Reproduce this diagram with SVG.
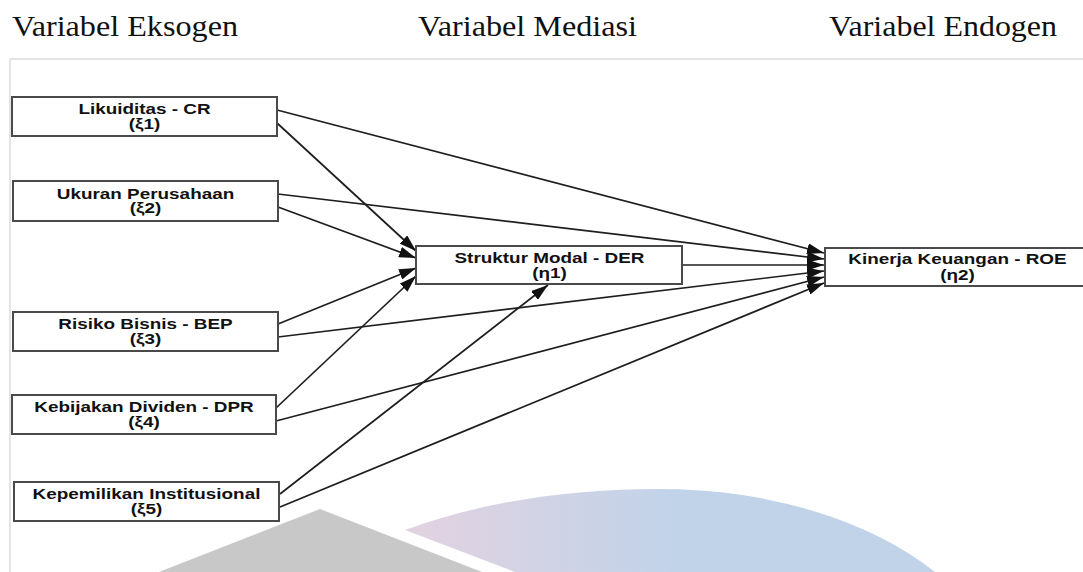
<svg xmlns="http://www.w3.org/2000/svg" width="1083" height="572" viewBox="0 0 1083 572">
  <style>
    .title { font-family: "Liberation Serif", "Times New Roman", serif; font-size: 30px; fill: #111; }
    .box { fill: #fff; stroke: #4a4a4a; stroke-width: 2; }
    .lbl { font-family: "Liberation Sans", Arial, sans-serif; font-size: 14px; font-weight: bold; fill: #111; text-anchor: middle; }
    .edge { fill: none; stroke: #1e1e1e; stroke-width: 1.7; marker-end: url(#arrow); }
    .frame { stroke: #dcdcdc; stroke-width: 1.5; fill: none; }
  </style>
  <defs>
    <marker id="arrow" markerUnits="userSpaceOnUse" markerWidth="17" markerHeight="11" refX="17" refY="5.5" orient="auto">
      <path d="M0,0 L17,5.5 L0,11 Z" fill="#111"/>
    </marker>
    <linearGradient id="wm" gradientUnits="userSpaceOnUse" x1="405" y1="0" x2="680" y2="0">
      <stop offset="0" stop-color="#e2d2e0"/>
      <stop offset="1" stop-color="#c1d3e9"/>
    </linearGradient>
  </defs>

  <rect width="1083" height="572" fill="#fff"/>

  <!-- column headings -->
  <g id="headings">
    <text class="title" x="12" y="36" textLength="226" lengthAdjust="spacingAndGlyphs">Variabel Eksogen</text>
    <text class="title" x="418" y="36" textLength="219" lengthAdjust="spacingAndGlyphs">Variabel Mediasi</text>
    <text class="title" x="829" y="36" textLength="228" lengthAdjust="spacingAndGlyphs">Variabel Endogen</text>
  </g>

  <!-- panel border -->
  <path class="frame" d="M10,572 L10,59 L1083,59"/>

  <!-- background emblem -->
  <g id="emblem">
    <polygon points="159,572 320,509 482,572" fill="#c8c8c8"/>
    <path d="M405,530 C480,502 570,489 660,489 A346,211 0 0 1 935,572 L515,572 Z" fill="url(#wm)"/>
  </g>

  <!-- paths -->
  <g id="connectors">
    <line class="edge" x1="277" y1="110" x2="824" y2="253"/>
    <line class="edge" x1="277" y1="123" x2="416" y2="251"/>
    <line class="edge" x1="278" y1="194" x2="824" y2="259"/>
    <line class="edge" x1="278" y1="207" x2="416" y2="258"/>
    <line class="edge" x1="278" y1="324" x2="416" y2="268"/>
    <line class="edge" x1="278" y1="337" x2="824" y2="271"/>
    <line class="edge" x1="276" y1="408" x2="416" y2="276"/>
    <line class="edge" x1="276" y1="421" x2="824" y2="277"/>
    <line class="edge" x1="280" y1="494" x2="548" y2="285"/>
    <line class="edge" x1="280" y1="507" x2="824" y2="283"/>
    <line class="edge" x1="682" y1="265" x2="824" y2="265"/>
  </g>

  <g id="x1">
    <rect class="box" x="12" y="97" width="265" height="39"/>
    <text class="lbl" transform="translate(144.5 0) scale(1.35 1)" x="0" y="114">Likuiditas - CR</text>
    <text class="lbl" transform="translate(144.5 0) scale(1.35 1)" x="0" y="129">(ξ1)</text>
  </g>
  <g id="x2">
    <rect class="box" x="13" y="181" width="265" height="40"/>
    <text class="lbl" transform="translate(145.5 0) scale(1.35 1)" x="0" y="199">Ukuran Perusahaan</text>
    <text class="lbl" transform="translate(145.5 0) scale(1.35 1)" x="0" y="213">(ξ2)</text>
  </g>
  <g id="x3">
    <rect class="box" x="13" y="312" width="265" height="39"/>
    <text class="lbl" transform="translate(145.5 0) scale(1.35 1)" x="0" y="329">Risiko Bisnis - BEP</text>
    <text class="lbl" transform="translate(145.5 0) scale(1.35 1)" x="0" y="344">(ξ3)</text>
  </g>
  <g id="x4">
    <rect class="box" x="12" y="395" width="264" height="39"/>
    <text class="lbl" transform="translate(144 0) scale(1.35 1)" x="0" y="412">Kebijakan Dividen - DPR</text>
    <text class="lbl" transform="translate(144 0) scale(1.35 1)" x="0" y="427">(ξ4)</text>
  </g>
  <g id="x5">
    <rect class="box" x="14" y="482" width="265" height="39"/>
    <text class="lbl" transform="translate(146.5 0) scale(1.35 1)" x="0" y="499">Kepemilikan Institusional</text>
    <text class="lbl" transform="translate(146.5 0) scale(1.35 1)" x="0" y="514">(ξ5)</text>
  </g>
  <g id="y1">
    <rect class="box" x="416" y="246" width="266" height="38"/>
    <text class="lbl" transform="translate(549.5 0) scale(1.35 1)" x="0" y="263">Struktur Modal - DER</text>
    <text class="lbl" transform="translate(549.5 0) scale(1.35 1)" x="0" y="278">(η1)</text>
  </g>
  <g id="y2">
    <rect class="box" x="825" y="248" width="265" height="38"/>
    <text class="lbl" transform="translate(957.5 0) scale(1.35 1)" x="0" y="264">Kinerja Keuangan - ROE</text>
    <text class="lbl" transform="translate(957.5 0) scale(1.35 1)" x="0" y="280">(η2)</text>
  </g>
</svg>
